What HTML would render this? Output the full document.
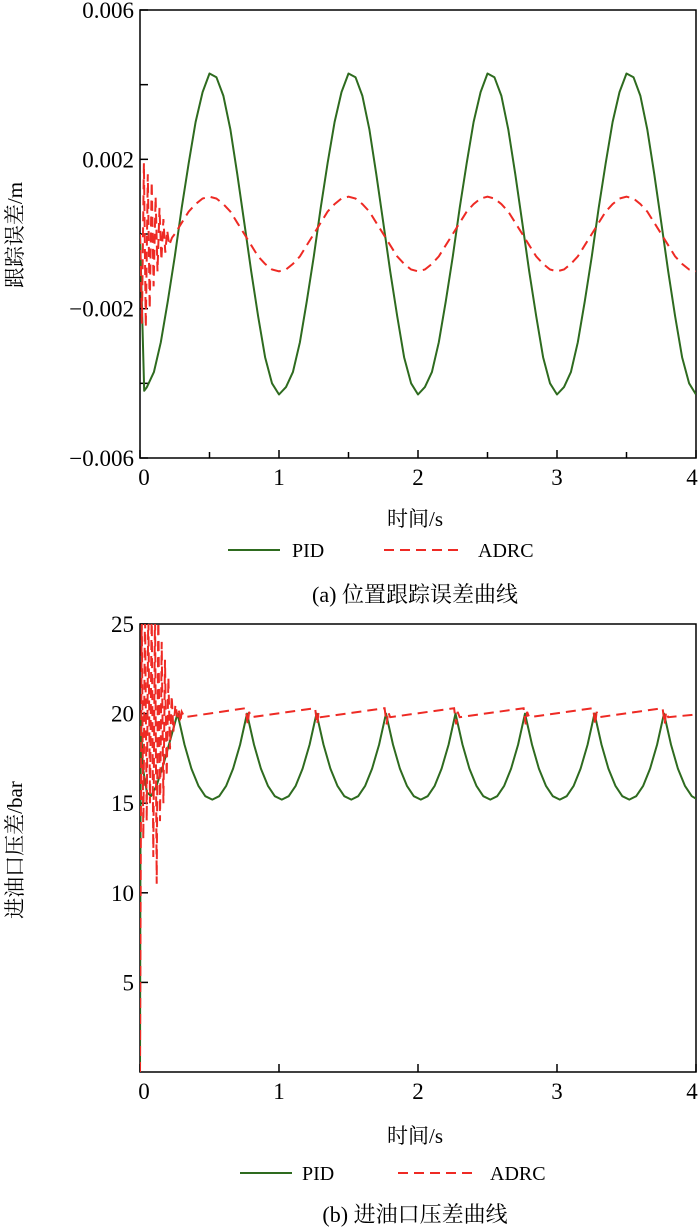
<!DOCTYPE html>
<html><head><meta charset="utf-8">
<style>
body{margin:0;background:#fff;}
svg{display:block;font-family:"Liberation Serif","Noto Serif CJK SC",serif;}
</style></head>
<body>
<svg id="c" width="700" height="1230" viewBox="0 0 700 1230">
<g id="top"></g>
<g id="bot"></g>
<text x="415" y="526" font-size="21" text-anchor="middle">时间/s</text>
<text x="22" y="235" font-size="21" text-anchor="middle" transform="rotate(-90 22 235)">跟踪误差/m</text>
<line x1="228" y1="550" x2="280" y2="550" stroke="#2e6b1f" stroke-width="2"/>
<text x="292" y="557" font-size="20">PID</text>
<line x1="384" y1="550" x2="462" y2="550" stroke="#ee2a24" stroke-width="2" stroke-dasharray="10,6"/>
<text x="478" y="557" font-size="20">ADRC</text>
<text x="415" y="602" font-size="22" text-anchor="middle">(a) 位置跟踪误差曲线</text>
<text x="415" y="1143" font-size="21" text-anchor="middle">时间/s</text>
<text x="22" y="850" font-size="21" text-anchor="middle" transform="rotate(-90 22 850)">进油口压差/bar</text>
<line x1="240" y1="1173" x2="292" y2="1173" stroke="#2e6b1f" stroke-width="2"/>
<text x="302" y="1180" font-size="20">PID</text>
<line x1="398" y1="1173" x2="476" y2="1173" stroke="#ee2a24" stroke-width="2" stroke-dasharray="10,6"/>
<text x="490" y="1180" font-size="20">ADRC</text>
<text x="415" y="1222" font-size="22" text-anchor="middle">(b) 进油口压差曲线</text>
</svg>
<script>
// ---- top chart data ----
const topTicksY = [0.006, 0.002, -0.002, -0.006];
const topTickLabelsY = ["0.006", "0.002", "\u22120.002", "\u22120.006"];
const topMinorY = [0.004, 0, -0.004];
const xTickVals = [0, 1, 2, 3, 4];
const xTickLabels = ["0", "1", "2", "3", "4"];
const topPidT = [0,0.03,0.05,0.10,0.15,0.20,0.25,0.30,0.35,0.40,0.45,0.50,0.55,0.60,0.65,0.70,0.75,0.80,0.85,0.90,0.95,1.00,1.05,1.10,1.15,1.20,1.25,1.30,1.35,1.40,1.45,1.50,1.55,1.60,1.65,1.70,1.75,1.80,1.85,1.90,1.95,2.00,2.05,2.10,2.15,2.20,2.25,2.30,2.35,2.40,2.45,2.50,2.55,2.60,2.65,2.70,2.75,2.80,2.85,2.90,2.95,3.00,3.05,3.10,3.15,3.20,3.25,3.30,3.35,3.40,3.45,3.50,3.55,3.60,3.65,3.70,3.75,3.80,3.85,3.90,3.95,4.00];
const topPidV = [0,-0.0042,-0.0041,-0.0037,-0.0029,-0.0018,-0.0006,0.0007,0.0019,0.0030,0.0038,0.0043,0.0042,0.0037,0.0028,0.0016,0.0003,-0.0010,-0.0022,-0.0033,-0.0040,-0.0043,-0.0041,-0.0037,-0.0029,-0.0018,-0.0006,0.0007,0.0019,0.0030,0.0038,0.0043,0.0042,0.0037,0.0028,0.0016,0.0003,-0.0010,-0.0022,-0.0033,-0.0040,-0.0043,-0.0041,-0.0037,-0.0029,-0.0018,-0.0006,0.0007,0.0019,0.0030,0.0038,0.0043,0.0042,0.0037,0.0028,0.0016,0.0003,-0.0010,-0.0022,-0.0033,-0.0040,-0.0043,-0.0041,-0.0037,-0.0029,-0.0018,-0.0006,0.0007,0.0019,0.0030,0.0038,0.0043,0.0042,0.0037,0.0028,0.0016,0.0003,-0.0010,-0.0022,-0.0033,-0.0040,-0.0043];
const topAdrcT = [0,0.014,0.028,0.042,0.056,0.070,0.084,0.098,0.112,0.126,0.140,0.154,0.168,0.182,0.196,0.21,0.23,0.25,0.30,0.35,0.40,0.45,0.50,0.55,0.60,0.65,0.70,0.75,0.80,0.85,0.90,0.95,1.00,1.05,1.10,1.15,1.20,1.25,1.30,1.35,1.40,1.45,1.50,1.55,1.60,1.65,1.70,1.75,1.80,1.85,1.90,1.95,2.00,2.05,2.10,2.15,2.20,2.25,2.30,2.35,2.40,2.45,2.50,2.55,2.60,2.65,2.70,2.75,2.80,2.85,2.90,2.95,3.00,3.05,3.10,3.15,3.20,3.25,3.30,3.35,3.40,3.45,3.50,3.55,3.60,3.65,3.70,3.75,3.80,3.85,3.90,3.95,4.00];
const topAdrcV = [0,-0.0024,0.0019,-0.0025,0.0016,-0.0020,0.0014,-0.0014,0.0010,-0.0010,0.0007,-0.0007,0.0004,-0.0005,0.0001,-0.0003,-0.0001,0,0.0003,0.0006,0.0008,0.00095,0.001,0.00095,0.0008,0.0006,0.0003,0,-0.0003,-0.0006,-0.0008,-0.00095,-0.001,-0.00095,-0.0008,-0.0006,-0.0003,0,0.0003,0.0006,0.0008,0.00095,0.001,0.00095,0.0008,0.0006,0.0003,0,-0.0003,-0.0006,-0.0008,-0.00095,-0.001,-0.00095,-0.0008,-0.0006,-0.0003,0,0.0003,0.0006,0.0008,0.00095,0.001,0.00095,0.0008,0.0006,0.0003,0,-0.0003,-0.0006,-0.0008,-0.00095,-0.001,-0.00095,-0.0008,-0.0006,-0.0003,0,0.0003,0.0006,0.0008,0.00095,0.001,0.00095,0.0008,0.0006,0.0003,0,-0.0003,-0.0006,-0.0008,-0.00095,-0.001];
// ---- bottom chart data ----
const botTicksY = [25, 20, 15, 10, 5];
const botTickLabelsY = ["25", "20", "15", "10", "5"];
const botPidT = [0,0.005,0.02,0.05,0.08,0.12,0.17,0.22,0.27,0.32,0.37,0.42,0.47,0.52,0.57,0.62,0.67,0.72,0.77,0.82,0.87,0.92,0.97,1.02,1.07,1.12,1.17,1.22,1.27,1.32,1.37,1.42,1.47,1.52,1.57,1.62,1.67,1.72,1.77,1.82,1.87,1.92,1.97,2.02,2.07,2.12,2.17,2.22,2.27,2.32,2.37,2.42,2.47,2.52,2.57,2.62,2.67,2.72,2.77,2.82,2.87,2.92,2.97,3.02,3.07,3.12,3.17,3.22,3.27,3.32,3.37,3.42,3.47,3.52,3.57,3.62,3.67,3.72,3.77,3.82,3.87,3.92,3.97,4.00];
const botPidV = [0,20,17,15.6,15.4,16,17.2,18.6,20,18.27,16.93,15.97,15.39,15.2,15.39,15.97,16.93,18.27,20,18.27,16.93,15.97,15.39,15.2,15.39,15.97,16.93,18.27,20,18.27,16.93,15.97,15.39,15.2,15.39,15.97,16.93,18.27,20,18.27,16.93,15.97,15.39,15.2,15.39,15.97,16.93,18.27,20,18.27,16.93,15.97,15.39,15.2,15.39,15.97,16.93,18.27,20,18.27,16.93,15.97,15.39,15.2,15.39,15.97,16.93,18.27,20,18.27,16.93,15.97,15.39,15.2,15.39,15.97,16.93,18.27,20,18.27,16.93,15.97,15.39,15.25];
const botAdrcT = [0,0.012,0.024,0.036,0.048,0.06,0.072,0.084,0.096,0.108,0.12,0.132,0.144,0.156,0.168,0.18,0.192,0.204,0.216,0.228,0.24,0.255,0.27,0.28,0.29,0.30,0.32,0.76,0.775,0.785,0.80,1.26,1.275,1.285,1.30,1.76,1.775,1.785,1.80,2.26,2.275,2.285,2.30,2.76,2.775,2.785,2.80,3.26,3.275,3.285,3.30,3.76,3.775,3.785,3.80,4.00];
const botAdrcV = [0,26,13,26,14,26,15,26,12,26,10.5,26,14,24,15,23,16.5,22,18,21,19,20.5,19.8,20.2,19.5,20.1,19.8,20.3,19.4,20.1,19.8,20.3,19.4,20.1,19.8,20.3,19.4,20.1,19.8,20.3,19.4,20.1,19.8,20.3,19.4,20.1,19.8,20.3,19.4,20.1,19.8,20.3,19.4,20.1,19.8,19.95];

const NS = "http://www.w3.org/2000/svg";
function mk(parent, tag, attrs){const e=document.createElementNS(NS,tag);for(const k in attrs)e.setAttribute(k,attrs[k]);parent.appendChild(e);return e;}
const L = 140, R = 696;
const xS = t => L + t * (R - L) / 4;

function drawChart(g, top, bot, ymin, ymax, ticks, labels, minor, xMinor, pidT, pidV, adT, adV, clipId){
  const yS = v => bot - (v - ymin) / (ymax - ymin) * (bot - top);
  const defs = mk(g, "defs", {});
  const cp = mk(defs, "clipPath", {id: clipId});
  mk(cp, "rect", {x: L, y: top, width: R - L, height: bot - top});
  const frame = mk(g, "rect", {x: L, y: top, width: R - L, height: bot - top, fill: "none", stroke: "#000", "stroke-width": 1.5});
  
  
  ticks.forEach((v, i) => {
    const tk = mk(g, "line", {x1: L, x2: L + 8, y1: yS(v), y2: yS(v), stroke: "#000", "stroke-width": 1.5});
    
    
    const tx = mk(g, "text", {x: L - 6, y: yS(v) + 8, "font-size": 23, "text-anchor": "end"});
    tx.textContent = labels[i];
    
    
  });
  minor.forEach(v => {
    const tk = mk(g, "line", {x1: L, x2: L + 8, y1: yS(v), y2: yS(v), stroke: "#000", "stroke-width": 1.5});
    
    
  });
  xTickVals.forEach((t, i) => {
    const tk = mk(g, "line", {x1: xS(t), x2: xS(t), y1: bot, y2: bot - 8, stroke: "#000", "stroke-width": 1.5});
    
    
    const tx = mk(g, "text", {x: Math.min(xS(t) + (i === 0 ? 4 : 0), 692), y: bot + 27, "font-size": 23, "text-anchor": "middle"});
    tx.textContent = xTickLabels[i];
    
    
  });
  xMinor.forEach(t => {
    const tk = mk(g, "line", {x1: xS(t), x2: xS(t), y1: bot, y2: bot - 6, stroke: "#000", "stroke-width": 1.5});
    
    
  });
  const dP = pidT.map((t, i) => (i ? "L" : "M") + xS(t).toFixed(1) + "," + yS(pidV[i]).toFixed(1)).join("");
  const dA = adT.map((t, i) => (i ? "L" : "M") + xS(t).toFixed(1) + "," + yS(adV[i]).toFixed(1)).join("");
  const pl = mk(g, "path", {d: dP, fill: "none", stroke: "#2e6b1f", "stroke-width": 2, "stroke-linejoin": "round", "clip-path": "url(#" + clipId + ")"});
  
  
  const al = mk(g, "path", {d: dA, fill: "none", stroke: "#ee2a24", "stroke-width": 2, "stroke-dasharray": "10,6", "clip-path": "url(#" + clipId + ")"});
  
  
}
drawChart(document.getElementById("top"), 10, 458, -0.006, 0.006, topTicksY, topTickLabelsY, topMinorY, [0.5,1.5,2.5,3.5], topPidT, topPidV, topAdrcT, topAdrcV, "clipTop");
drawChart(document.getElementById("bot"), 624, 1072, 0, 25, botTicksY, botTickLabelsY, [], [], botPidT, botPidV, botAdrcT, botAdrcV, "clipBot");
</script>
</body></html>
